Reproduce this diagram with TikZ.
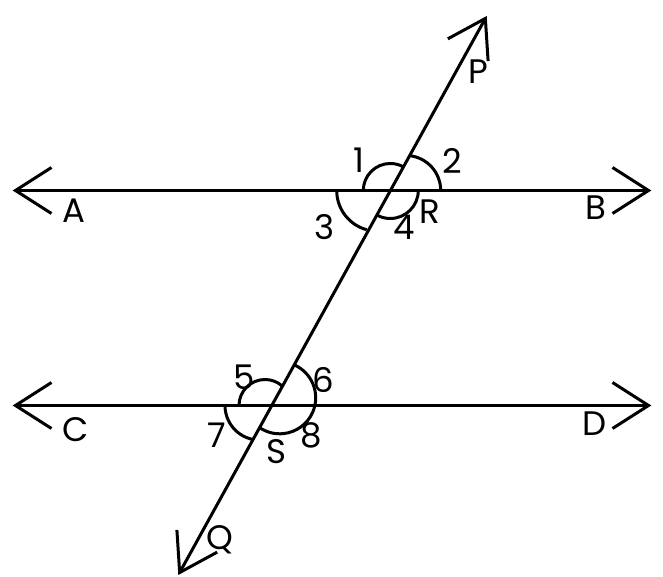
\documentclass[tikz,border=0pt]{standalone}
\usepackage{fontspec}
\setmainfont{Poppins}
\usetikzlibrary{arrows.meta}
\begin{document}
\begin{tikzpicture}[x=1pt,y=1pt, line width=3pt,
  barb/.tip={Straight Barb[length=36pt,width=46pt]},
  ray/.style={barb-barb},
  lbl/.style={font=\fontsize{34}{40}\selectfont, inner sep=0pt},
  angarc/.style={line width=3pt}]
\useasboundingbox (0,0) rectangle (663,577);
% end points
\coordinate (A) at (12.7,386.5);
\coordinate (B) at (651.3,386.5);
\coordinate (C) at (12.7,171.5);
\coordinate (D) at (651.3,171.5);
\coordinate (P) at (486.7,561);
\coordinate (Q) at (178.3,2);
\coordinate (R0) at (390.3,386.5);
\coordinate (S0) at (271.5,171.5);
% lines
\draw[ray] (A) -- (B);
\draw[ray] (C) -- (D);
\draw[ray] (Q) -- (P);
% angle arcs at R
\draw[angarc] (R0) ++(180:27) arc[start angle=180, end angle=61.1, radius=27];
\draw[angarc] ([xshift=15.4pt]R0) ++(0:35) arc[start angle=0, end angle=83, radius=35];
\draw[angarc] ([xshift=-12.9pt]R0) ++(180:40.7) arc[start angle=180, end angle=254.8, radius=40.7];
\draw[angarc] (R0) ++(0:28) arc[start angle=0, end angle=-118.9, radius=28];
% angle arcs at S
\draw[angarc] ([xshift=-6.5pt]S0) ++(180:26) arc[start angle=180, end angle=49.4, radius=26];
\draw[angarc] ([xshift=8.2pt,yshift=7.7pt]S0) ++(66:36) arc[start angle=66, end angle=-124, radius=36];
\draw[angarc] ([xshift=-11.9pt]S0) ++(180:34.6) arc[start angle=180, end angle=259.7, radius=34.6];
% labels
\node[lbl] (lP) at (478.3,505.3) {P};
\node[lbl] (l1) at (359,416.3) {1};
\node[lbl] (l2) at (452,416) {2};
\node[lbl] (l3) at (325,350.3) {3};
\node[lbl] (l4) at (404.5,350) {4};
\node[lbl] (lR) at (430,365.5) {R};
\node[lbl] (lA) at (74,366) {A};
\node[lbl] (lB) at (595.7,369.5) {B};
\node[lbl] (lC) at (75.5,147) {C};
\node[lbl] (lD) at (594.7,153) {D};
\node[lbl] (l5) at (244,200) {5};
\node[lbl] (l6) at (323.3,197) {6};
\node[lbl] (l7) at (216.7,142) {7};
\node[lbl] (l8) at (311.7,142) {8};
\node[lbl] (lS) at (276.7,125.3) {S};
\node[lbl] (lQ) at (220,37) {Q};
\end{tikzpicture}
\end{document}
